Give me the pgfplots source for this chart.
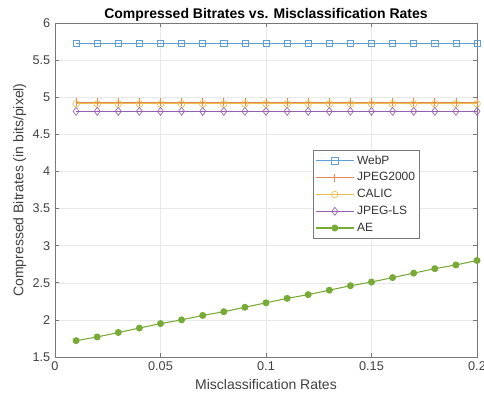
\documentclass[border=0pt]{standalone}
\usepackage{pgfplots}
\pgfplotsset{compat=1.18}
\usepackage{fontspec}
\setmainfont{Liberation Sans}
\definecolor{cWebP}{RGB}{95,160,215}
\definecolor{cJ2K}{RGB}{225,135,85}
\definecolor{cCALIC}{RGB}{237,190,75}
\definecolor{cJLS}{RGB}{150,95,175}
\definecolor{cAE}{RGB}{120,170,55}
\definecolor{axgray}{RGB}{120,120,120}
\begin{document}
\begin{tikzpicture}
\begin{axis}[
  scale only axis=true,
  width=316.5pt, height=250.5pt,
  xmin=0, xmax=0.2, ymin=1.5, ymax=6,
  xtick={0,0.05,0.1,0.15,0.2},
  xticklabels={0,0.05,0.1,0.15,0.2},
  ytick={1.5,2,2.5,3,3.5,4,4.5,5,5.5,6},
  yticklabels={1.5,2,2.5,3,3.5,4,4.5,5,5.5,6},
  tick align=inside,
  major tick length=3pt,
  grid=major,
  grid style={gray!18, line width=0.4pt},
  axis line style={axgray, line width=0.6pt},
  tick style={axgray, line width=0.5pt},
  every tick label/.style={font=\fontsize{9.5}{10}\selectfont, text=black!75},
  title={\bfseries Compressed Bitrates vs. Misclassification Rates},
  title style={font=\fontsize{10.5}{12}\selectfont, yshift=-8.5pt},
  xlabel={Misclassification Rates},
  ylabel={Compressed Bitrates (in bits/pixel)},
  label style={font=\fontsize{10.5}{12}\selectfont, text=black!75},
  xlabel style={yshift=0pt},
  ylabel style={yshift=-2pt},
  legend style={at={(0.865,0.62)}, anchor=north east, draw=axgray, line width=0.5pt,
    font=\fontsize{9}{10.5}\selectfont, text=black!80, inner sep=1.5pt, row sep=0pt,
    nodes={inner ysep=2.4pt}},
  legend cell align=left,
  legend image code/.code={
    \draw[mark repeat=2,mark phase=2] plot coordinates {(0cm,0cm) (0.5cm,0cm) (1cm,0cm)};
  },
]
\addplot[cWebP, line width=0.6pt, mark=square, mark size=2.3pt, mark options={solid, line width=0.5pt}] coordinates {
(0.01,5.73)(0.02,5.73)(0.03,5.73)(0.04,5.73)(0.05,5.73)(0.06,5.73)(0.07,5.73)(0.08,5.73)(0.09,5.73)(0.10,5.73)
(0.11,5.73)(0.12,5.73)(0.13,5.73)(0.14,5.73)(0.15,5.73)(0.16,5.73)(0.17,5.73)(0.18,5.73)(0.19,5.73)(0.20,5.73)};
\addlegendentry{WebP}
\addplot[cJ2K, line width=0.6pt, mark=|, mark size=3pt, mark options={solid, line width=0.5pt}] coordinates {
(0.01,4.93)(0.02,4.93)(0.03,4.93)(0.04,4.93)(0.05,4.93)(0.06,4.93)(0.07,4.93)(0.08,4.93)(0.09,4.93)(0.10,4.93)
(0.11,4.93)(0.12,4.93)(0.13,4.93)(0.14,4.93)(0.15,4.93)(0.16,4.93)(0.17,4.93)(0.18,4.93)(0.19,4.93)(0.20,4.93)};
\addlegendentry{JPEG2000}
\addplot[cCALIC, line width=0.6pt, mark=o, mark size=2.5pt, mark options={solid, line width=0.5pt}] coordinates {
(0.01,4.91)(0.02,4.91)(0.03,4.91)(0.04,4.91)(0.05,4.91)(0.06,4.91)(0.07,4.91)(0.08,4.91)(0.09,4.91)(0.10,4.91)
(0.11,4.91)(0.12,4.91)(0.13,4.91)(0.14,4.91)(0.15,4.91)(0.16,4.91)(0.17,4.91)(0.18,4.91)(0.19,4.91)(0.20,4.91)};
\addlegendentry{CALIC}
\addplot[cJLS, line width=0.6pt, mark=diamond, mark size=3pt, mark options={solid, line width=0.5pt}] coordinates {
(0.01,4.81)(0.02,4.81)(0.03,4.81)(0.04,4.81)(0.05,4.81)(0.06,4.81)(0.07,4.81)(0.08,4.81)(0.09,4.81)(0.10,4.81)
(0.11,4.81)(0.12,4.81)(0.13,4.81)(0.14,4.81)(0.15,4.81)(0.16,4.81)(0.17,4.81)(0.18,4.81)(0.19,4.81)(0.20,4.81)};
\addlegendentry{JPEG-LS}
\addplot[cAE, line width=0.8pt, mark=*, mark size=2.2pt, mark options={solid, fill=cAE}] coordinates {
(0.01,1.72)(0.02,1.77)(0.03,1.83)(0.04,1.89)(0.05,1.95)(0.06,2.00)(0.07,2.06)(0.08,2.11)(0.09,2.17)(0.10,2.23)
(0.11,2.29)(0.12,2.34)(0.13,2.40)(0.14,2.46)(0.15,2.51)(0.16,2.57)(0.17,2.63)(0.18,2.69)(0.19,2.74)(0.20,2.80)};
\addlegendentry{AE}
\end{axis}
\pgfresetboundingbox
\path ([shift={(-41.25pt,-32.25pt)}]current axis.south west) rectangle ([shift={(5.25pt,17.25pt)}]current axis.north east);
\end{tikzpicture}
\end{document}
